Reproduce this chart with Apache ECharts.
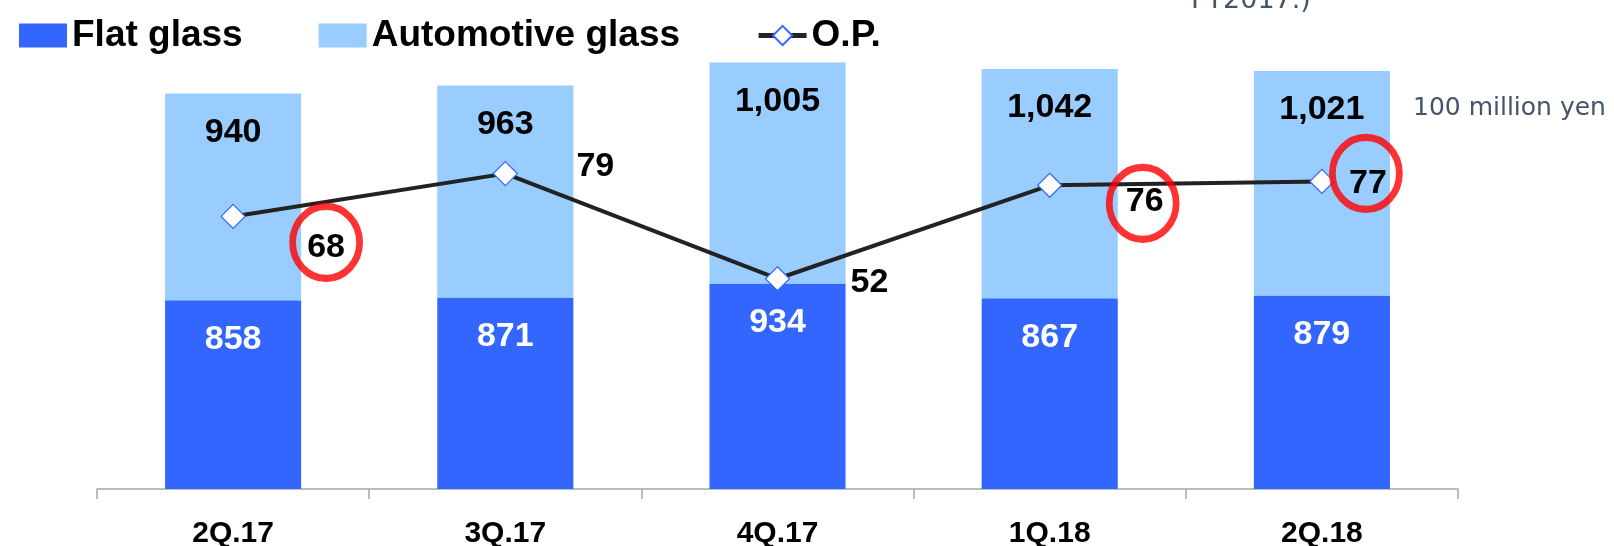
<!DOCTYPE html>
<html>
<head>
<meta charset="utf-8">
<script src="https://cdn.jsdelivr.net/npm/echarts@6/dist/echarts.min.js"></script>
<style>
  html, body { margin: 0; padding: 0; background: #ffffff; }
  #chart { width: 1614px; height: 546px; }
</style>
</head>
<body>
<div id="chart"></div>
<script>
// Quarterly sales by segment (100 million yen) and operating profit
const quarters = ['2Q.17', '3Q.17', '4Q.17', '1Q.18', '2Q.18'];
const flatGlass = [858, 871, 934, 867, 879];
const automotiveGlass = [940, 963, 1005, 1042, 1021];
const operatingProfit = [68, 79, 52, 76, 77];
const circledQuarters = ['2Q.17', '1Q.18', '2Q.18'];
const unitNote = '100 million yen';
const headerFragment = 'FY2017.)';

// Where each O.P. value sits relative to its marker (px)
const opLabelOffsets = [[93, 31], [90, -7], [92, 4], [95, 16], [46, 2]];
// Fine shift of each red ring relative to the value it surrounds (px)
const ringShift = { '2Q.17': [0, -5], '1Q.18': [-2, 2], '2Q.18': [-2, -10] };

const BOLD = 'bold';
const SANS = '"Liberation Sans", Arial, sans-serif';
const fmt = v => Number(v).toLocaleString('en-US');

const chart = echarts.init(document.getElementById('chart'), null, { renderer: 'canvas' });

const ringData = quarters.map((q, i) => {
  if (!circledQuarters.includes(q)) return '-';
  const o = opLabelOffsets[i], s = ringShift[q];
  return { value: operatingProfit[i], symbolOffset: [o[0] + s[0], o[1] + s[1]] };
});

chart.setOption({
  animation: false,
  backgroundColor: '#ffffff',
  textStyle: { fontFamily: SANS },
  legend: {
    data: [
      { name: 'Flat glass', icon: 'rect' },
      { name: 'Automotive glass', icon: 'rect' },
      { name: 'O.P.' }
    ],
    left: 14,
    top: 12,
    itemWidth: 48,
    itemHeight: 24,
    itemGap: 76,
    lineStyle: { width: 5, color: '#222222' },
    textStyle: { fontFamily: SANS, fontWeight: BOLD, fontSize: 37, color: '#000000' }
  },
  grid: { left: 97, right: 156, top: 49, bottom: 57, containLabel: false, outerBoundsMode: 'none' },
  xAxis: {
    type: 'category',
    data: quarters,
    axisLine: { lineStyle: { color: '#a6a6a6', width: 1.5 } },
    axisTick: { show: true, length: 10, lineStyle: { color: '#a6a6a6', width: 1.5 } },
    axisLabel: { fontFamily: SANS, fontWeight: BOLD, fontSize: 30, color: '#000000', margin: 30 }
  },
  yAxis: [
    { type: 'value', min: 0, max: 2000, show: false, splitLine: { show: false } },
    { type: 'value', min: -2, max: 111, show: false, splitLine: { show: false } }
  ],
  series: [
    {
      name: 'Flat glass',
      type: 'bar',
      stack: 'sales',
      barWidth: '50%',
      data: flatGlass,
      itemStyle: { color: '#3366ff' },
      label: {
        show: true, position: 'insideTop', distance: 22,
        fontFamily: SANS, fontWeight: BOLD, fontSize: 34, color: '#ffffff',
        formatter: p => fmt(p.value)
      }
    },
    {
      name: 'Automotive glass',
      type: 'bar',
      stack: 'sales',
      barWidth: '50%',
      data: automotiveGlass,
      itemStyle: { color: '#99ccff' },
      label: {
        show: true, position: 'insideTop', distance: 22,
        fontFamily: SANS, fontWeight: BOLD, fontSize: 34, color: '#000000',
        formatter: p => fmt(p.value)
      }
    },
    {
      name: 'O.P.',
      type: 'line',
      yAxisIndex: 1,
      data: operatingProfit.map((v, i) => ({
        value: v,
        label: { offset: opLabelOffsets[i] }
      })),
      symbol: 'diamond',
      symbolSize: [24, 24],
      z: 5,
      lineStyle: { color: '#222222', width: 4 },
      itemStyle: { color: '#ffffff', borderColor: '#3366ff', borderWidth: 1.2 },
      label: {
        show: true, position: 'inside',
        fontFamily: SANS, fontWeight: BOLD, fontSize: 34, color: '#000000',
        formatter: p => fmt(p.value)
      }
    },
    {
      name: 'highlight',
      type: 'scatter',
      yAxisIndex: 1,
      data: ringData,
      symbol: 'circle',
      symbolSize: [67, 72],
      z: 6,
      silent: true,
      itemStyle: { color: 'rgba(0,0,0,0)', borderColor: '#ff0000', borderWidth: 7 }
    }
  ],
  graphic: [
    {
      type: 'text', x: 1413, y: 108,
      style: { text: unitNote, font: '25px "DejaVu Sans", Verdana, sans-serif', fill: '#44546a', verticalAlign: 'middle' }
    },
    {
      type: 'text', x: 1191, y: 14,
      style: { text: headerFragment, font: '27px "DejaVu Sans", Verdana, sans-serif', fill: '#44546a', verticalAlign: 'bottom' }
    }
  ]
});
</script>
</body>
</html>
